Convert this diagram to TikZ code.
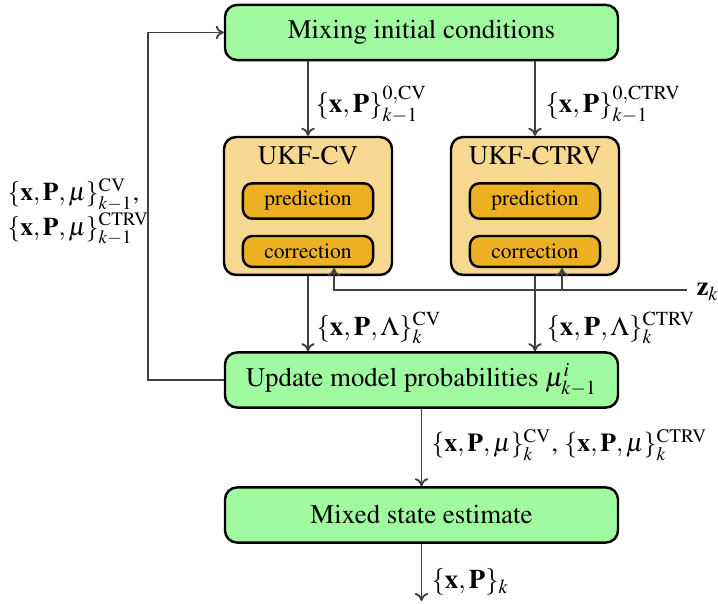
\documentclass[tikz,border=0pt]{standalone}
\usepackage[T1]{fontenc}
\usepackage{mathptmx}
\usetikzlibrary{arrows.meta,calc}
\definecolor{boxgreen}{RGB}{160,251,160}
\definecolor{ukfouter}{RGB}{246,216,144}
\definecolor{ukfinner}{RGB}{236,176,34}
\definecolor{linegray}{RGB}{64,64,64}
\begin{document}
\begin{tikzpicture}[x=0.372pt,y=-0.372pt,
  greenbox/.style={draw=black, fill=boxgreen, rounded corners=4.5pt, line width=0.9pt,
    minimum width=146.2pt, minimum height=20.5pt, font=\fontsize{10}{12}\selectfont},
  ukfbox/.style={draw=black, fill=ukfouter, rounded corners=4.5pt, line width=0.9pt,
    minimum width=62.5pt, minimum height=51.3pt},
  innerbox/.style={draw=black, fill=ukfinner, rounded corners=3.5pt, line width=0.9pt,
    minimum width=48.4pt, inner ysep=3pt, font=\fontsize{8}{9.6}\selectfont},
  conn/.style={draw=linegray, line width=0.7pt, -{To[length=3pt,width=5pt]}},
  lbl/.style={font=\fontsize{10}{12}\selectfont, inner sep=0pt}]
\useasboundingbox (0,0) rectangle (718,604);

\node[greenbox] (mix) at (421.5,32.5) {Mixing initial conditions};
\node[ukfbox] (cv) at (308,206) {};
\node[ukfbox] (ctrv) at (535,206) {};
\node[lbl] (cvt) at (308,156) {UKF-CV};
\node[lbl] (ctrvt) at (535,156) {UKF-CTRV};
\node[innerbox] (predcv) at (308,201) {prediction};
\node[innerbox] (corcv) at (308,251.5) {correction};
\node[innerbox] (predctrv) at (535,201) {prediction};
\node[innerbox] (corctrv) at (535,251.5) {correction};
\node[greenbox] (upd) at (421.5,380) {Update model probabilities $\mu^i_{k-1}$};
\node[greenbox] (mixd) at (421.5,515) {Mixed state estimate};
\coordinate (out) at (421.5,601);
\coordinate (fb) at (148,0);
\coordinate (zin) at (687,290);
\coordinate (za) at ($(corcv.south)+(26,0)$);
\coordinate (zb) at ($(corctrv.south)+(27,0)$);

\draw[conn] (mix.south -| cv.north) -- (cv.north);
\draw[conn] (mix.south -| ctrv.north) -- (ctrv.north);
\draw[conn] (cv.south) -- (cv.south |- upd.north);
\draw[conn] (ctrv.south) -- (ctrv.south |- upd.north);
\draw[conn] (upd.south) -- (mixd.north);
\draw[conn] (mixd.south) -- (out);
\draw[conn] (upd.west) -- (upd.west -| fb) -- (fb |- mix.west) -- (mix.west);
\draw[conn] (zin) -| (za);
\draw[conn] (zb |- zin) -- (zb);

\node[lbl, anchor=west] (zl) at (696,292) {$\mathbf{z}_k$};
\node[lbl, anchor=west] (l1) at (315,105) {$\{\mathbf{x},\mathbf{P}\}^{0,\mathrm{CV}}_{k-1}$};
\node[lbl, anchor=west] (l2) at (545,105) {$\{\mathbf{x},\mathbf{P}\}^{0,\mathrm{CTRV}}_{k-1}$};
\node[lbl, anchor=west] (l3) at (316,328) {$\{\mathbf{x},\mathbf{P},\Lambda\}^{\mathrm{CV}}_{k}$};
\node[lbl, anchor=west] (l4) at (546,328) {$\{\mathbf{x},\mathbf{P},\Lambda\}^{\mathrm{CTRV}}_{k}$};
\node[lbl, anchor=west, font=\fontsize{9.6}{11.5}\selectfont] (l5) at (431,445) {$\{\mathbf{x},\mathbf{P},\mu\}^{\mathrm{CV}}_{k}$, $\{\mathbf{x},\mathbf{P},\mu\}^{\mathrm{CTRV}}_{k}$};
\node[lbl, anchor=west] (l6) at (431,582) {$\{\mathbf{x},\mathbf{P}\}_{k}$};
\node[lbl, anchor=west, align=left, font=\fontsize{9.5}{11.5}\selectfont] (l7) at (7,212) {$\{\mathbf{x},\mathbf{P},\mu\}^{\mathrm{CV}}_{k-1}$,\\[0pt]$\{\mathbf{x},\mathbf{P},\mu\}^{\mathrm{CTRV}}_{k-1}$};
\end{tikzpicture}
\end{document}
